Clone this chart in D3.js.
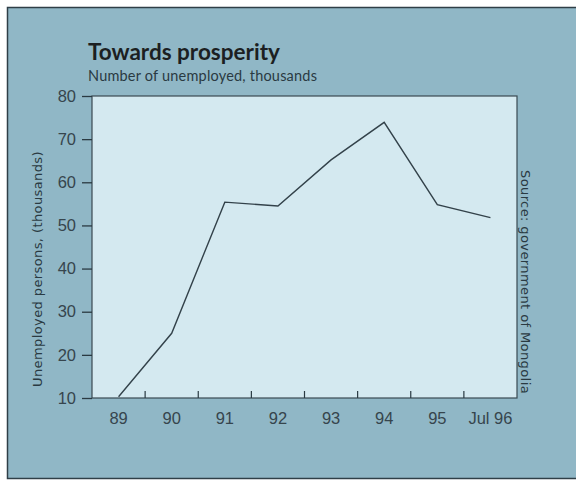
<!DOCTYPE html>
<html>
<head>
<meta charset="utf-8">
<script src="https://cdn.jsdelivr.net/npm/d3@7"></script>
<style>
  body { margin: 0; background: #fff; }
  svg { display: block; font-family: Lato, "Open Sans", sans-serif; }
</style>
</head>
<body>
<div id="chart"></div>
<script>
const years = ["89", "90", "91", "92", "93", "94", "95", "Jul 96"];
const unemployed = [10.3, 25, 55.4, 54.5, 65.2, 73.9, 54.8, 51.8];
const yTicks = [10, 20, 30, 40, 50, 60, 70, 80];

const width = 576;
const height = 481;
const margin = { top: 96, right: 59, bottom: 83, left: 92 };

const usableArea = {
    top: margin.top,
    right: width - margin.right,
    bottom: height - margin.bottom,
    left: margin.left,
    width: width - margin.left - margin.right,
    height: height - margin.top - margin.bottom,
};

const svg = d3.select('#chart')
    .append('svg')
    .attr('width', width)
    .attr('height', height);

// outer panel
svg.append('rect')
    .attr('x', 7).attr('y', 7)
    .attr('width', width - 7).attr('height', 471)
    .attr('fill', '#90b7c6');
svg.append('path')
    .attr('d', `M${width},7.5 H7.5 V478.5 H${width}`)
    .attr('fill', 'none')
    .attr('stroke', '#2f3f47')
    .attr('stroke-width', 1.5);

// plot area
svg.append('rect')
    .attr('x', usableArea.left).attr('y', usableArea.top)
    .attr('width', usableArea.width).attr('height', usableArea.height)
    .attr('fill', '#d4e9f0')
    .attr('stroke', '#3a4a52')
    .attr('stroke-width', 1.2);

const xScale = d3.scaleBand()
    .domain(years)
    .range([usableArea.left, usableArea.right]);

const yScale = d3.scaleLinear()
    .domain([10, 80])
    .range([usableArea.bottom, usableArea.top]);

// y axis
const yAxis = d3.axisLeft(yScale).tickValues(yTicks).tickSize(10).tickPadding(6);
const gy = svg.append('g')
    .attr('transform', `translate(${usableArea.left}, 0)`)
    .call(yAxis);
gy.select('.domain').remove();
gy.selectAll('line').attr('stroke', '#2a3a42').attr('stroke-width', 1.3);
gy.selectAll('text')
    .attr('font-size', 16.5)
    .attr('fill', '#36454d');

// x axis: ticks between bands, pointing inward
const xAxis = d3.axisBottom(xScale).tickSize(0).tickPadding(14);
const gx = svg.append('g')
    .attr('transform', `translate(0, ${usableArea.bottom})`)
    .call(xAxis);
gx.select('.domain').remove();
gx.selectAll('text')
    .attr('font-size', 16.5)
    .attr('fill', '#36454d');

svg.append('g')
    .selectAll('line')
    .data(years.slice(1))
    .join('line')
    .attr('x1', (d) => xScale(d))
    .attr('x2', (d) => xScale(d))
    .attr('y1', usableArea.bottom)
    .attr('y2', usableArea.bottom - 7)
    .attr('stroke', '#2a3a42')
    .attr('stroke-width', 1.2);

// line
const line = d3.line()
    .x((d, i) => xScale(years[i]) + xScale.bandwidth() / 2)
    .y((d) => yScale(d));

svg.append('path')
    .datum(unemployed)
    .attr('d', line)
    .attr('fill', 'none')
    .attr('stroke', '#33424a')
    .attr('stroke-width', 1.4);

// titles
svg.append('text')
    .attr('x', 88).attr('y', 60)
    .attr('font-size', 22.5)
    .attr('font-weight', 'bold')
    .attr('fill', '#1c1f22')
    .text('Towards prosperity');

svg.append('text')
    .attr('x', 88).attr('y', 81)
    .attr('font-size', 14.5)
    .attr('letter-spacing', 0.2)
    .attr('fill', '#2a3a42')
    .text('Number of unemployed, thousands');

svg.append('text')
    .attr('transform', `translate(42, 269) rotate(-90)`)
    .attr('text-anchor', 'middle')
    .attr('font-family', '"DejaVu Sans", sans-serif')
    .attr('font-size', 13)
    .attr('letter-spacing', 0.4)
    .attr('fill', '#2a3a42')
    .text('Unemployed persons, (thousands)');

svg.append('text')
    .attr('transform', `translate(521, 282) rotate(90)`)
    .attr('text-anchor', 'middle')
    .attr('font-family', '"DejaVu Sans", sans-serif')
    .attr('font-size', 13)
    .attr('letter-spacing', 0.4)
    .attr('fill', '#2a3a42')
    .text('Source: government of Mongolia');
</script>
</body>
</html>
